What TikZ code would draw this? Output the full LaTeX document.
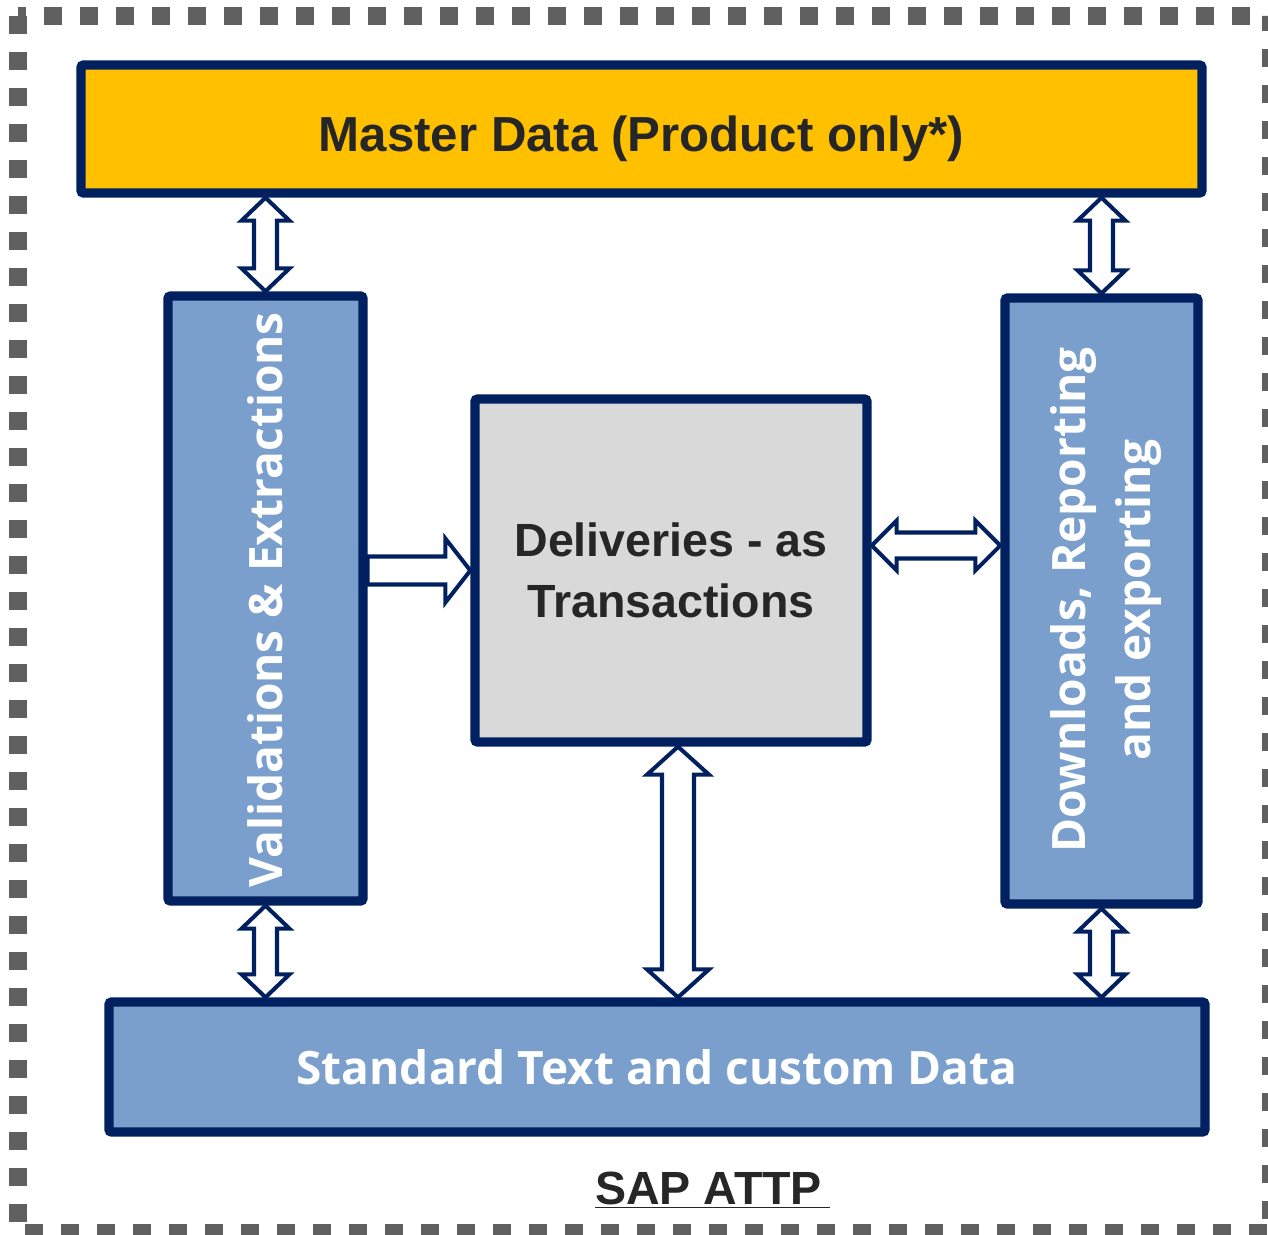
\documentclass[tikz,border=0pt]{standalone}
\usepackage{fontspec}
\setmainfont{Liberation Sans}
\newfontfamily\boxfont{Open Sans}
\usepackage{tikz}
\usetikzlibrary{positioning,calc}

\definecolor{navy}{RGB}{0,32,96}
\definecolor{boxblue}{RGB}{122,159,204}
\definecolor{boxgold}{RGB}{255,192,0}
\definecolor{boxgrey}{RGB}{217,217,217}
\definecolor{inkgrey}{RGB}{38,38,38}
\definecolor{dashgrey}{RGB}{96,96,96}

\begin{document}
\begin{tikzpicture}[
  font=\bfseries,
  panel/.style={rectangle, draw=navy, line width=5.3pt, rounded corners=1.5pt, inner sep=0pt},
  yelbox/.style={panel, fill=boxgold, text=inkgrey, text height=26pt, text depth=0pt, font=\bfseries\fontsize{28}{34}\selectfont},
  greybox/.style={panel, fill=boxgrey, text=inkgrey, align=center, font=\bfseries\fontsize{26.5}{35}\selectfont},
  bluebox/.style={panel, fill=boxblue},
  bluetext/.style={text=white, align=center, font=\boxfont\bfseries\fontsize{26.2}{37}\selectfont},
  arrowdims/.code n args={3}{\def\arrshaft{#1}\def\arrhead{#2}\def\arrlen{#3}},
  dblmap/.style={draw=navy, fill=white, line width=2.3pt, arrowdims={0.23cm}{0.48cm}{0.46cm},
    to path={let \p1=(\tikztostart), \p2=(\tikztotarget), \n1={atan2(\y2-\y1,\x2-\x1)} in
      -- ($(\p1)+(\n1:\arrlen)+({\n1+90}:\arrhead)$)
      -- ($(\p1)+(\n1:\arrlen)+({\n1+90}:\arrshaft)$)
      -- ($(\p2)+({\n1+180}:\arrlen)+({\n1+90}:\arrshaft)$)
      -- ($(\p2)+({\n1+180}:\arrlen)+({\n1+90}:\arrhead)$)
      -- (\p2)
      -- ($(\p2)+({\n1+180}:\arrlen)+({\n1-90}:\arrhead)$)
      -- ($(\p2)+({\n1+180}:\arrlen)+({\n1-90}:\arrshaft)$)
      -- ($(\p1)+(\n1:\arrlen)+({\n1-90}:\arrshaft)$)
      -- ($(\p1)+(\n1:\arrlen)+({\n1-90}:\arrhead)$)
      -- cycle}},
  onemap/.style={draw=navy, fill=white, line width=2.3pt, arrowdims={0.28cm}{0.64cm}{0.50cm},
    to path={let \p1=(\tikztostart), \p2=(\tikztotarget), \n1={atan2(\y2-\y1,\x2-\x1)} in
      -- ($(\p1)+({\n1+90}:\arrshaft)$)
      -- ($(\p2)+({\n1+180}:\arrlen)+({\n1+90}:\arrshaft)$)
      -- ($(\p2)+({\n1+180}:\arrlen)+({\n1+90}:\arrhead)$)
      -- (\p2)
      -- ($(\p2)+({\n1+180}:\arrlen)+({\n1-90}:\arrhead)$)
      -- ($(\p2)+({\n1+180}:\arrlen)+({\n1-90}:\arrshaft)$)
      -- ($(\p1)+({\n1-90}:\arrshaft)$)
      -- cycle}}
]
  \useasboundingbox (0,0) rectangle (25.36,-24.70);
  \draw[dashgrey, line width=0.36cm, dash pattern=on 0.36cm off 0.36cm] (0.36,-0.32) rectangle (25.42,-24.66);

  % boxes
  \node[yelbox, minimum width=22.42cm, minimum height=2.56cm] (master) at (12.83,-2.58) {Master Data (Product only*)};
  \node[bluebox, minimum width=3.90cm, minimum height=12.10cm] (val) at (5.31,-11.97) {};
  \node[greybox, minimum width=7.84cm, minimum height=6.86cm] (deliv) at (13.42,-11.41) {Deliveries - as\\Transactions};
  \node[bluebox, minimum width=3.86cm, minimum height=12.12cm] (dl) at (22.03,-12.02) {};
  \node[bluebox, bluetext, minimum width=21.92cm, minimum height=2.60cm] (std) at (13.14,-21.34) {Standard Text and custom Data};
  \node[bluetext, rotate=90] (valtxt) at (5.31,-12.00) {Validations \& Extractions};
  \node[bluetext, rotate=90] (dltxt) at (22.12,-12.00) {Downloads, Reporting\\and exporting};
  \node[font=\bfseries\fontsize{26.5}{32}\selectfont, text=inkgrey] (title) at (14.25,-23.80) {\underline{SAP ATTP\,}};

  % connectors
  \coordinate (dlmid) at ([yshift=0.50cm]deliv.east);
  \draw[dblmap] (master.south -| val) to (val.north);
  \draw[dblmap] (master.south -| dl) to (dl.north);
  \draw[dblmap] (val.south) to (std.north -| val);
  \draw[dblmap] (dl.south) to (std.north -| dl);
  \draw[dblmap, arrowdims={0.32cm}{0.62cm}{0.56cm}] ([xshift=0.14cm]deliv.south) to ([xshift=0.14cm]std.north -| deliv.south);
  \draw[dblmap, arrowdims={0.26cm}{0.50cm}{0.50cm}] (dlmid) to (dlmid -| dl.west);
  \draw[onemap] (val.east |- deliv) to (deliv.west);
\end{tikzpicture}
\end{document}
